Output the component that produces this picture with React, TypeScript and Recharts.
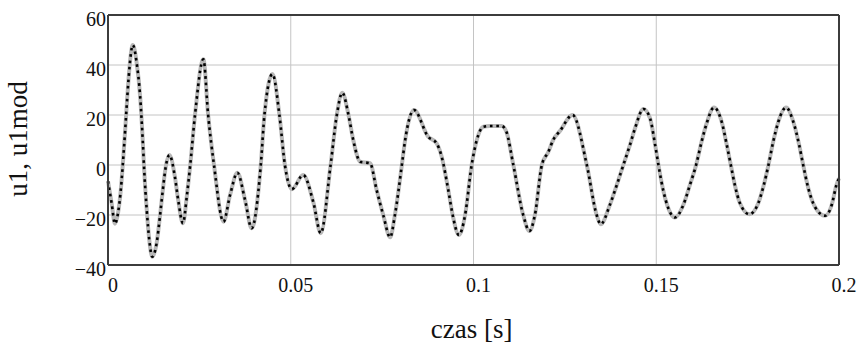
import React from 'react';
import {
  LineChart,
  Line,
  XAxis,
  YAxis,
  CartesianGrid,
  ReferenceLine,
  Label,
} from 'recharts';

// czas [s]
const time = [
  0.0, 0.001, 0.0019, 0.0028, 0.0035, 0.0042, 0.0047, 0.0051, 0.0056, 0.0068,
  0.0078, 0.0088, 0.0095, 0.0099, 0.0106, 0.0113, 0.0121, 0.0133, 0.0142, 0.015,
  0.0158, 0.0168, 0.0183, 0.0192, 0.0205, 0.0216, 0.0225, 0.0238, 0.0261, 0.0274,
  0.029, 0.0316, 0.0334, 0.0354, 0.0375, 0.0393, 0.0418, 0.0428, 0.045, 0.0469,
  0.0484, 0.0503, 0.0534, 0.0562, 0.0582, 0.0609, 0.0626, 0.0641, 0.0658, 0.0671,
  0.069, 0.0717, 0.0735, 0.0753, 0.0772, 0.0785, 0.0804, 0.0813, 0.0837, 0.0876,
  0.0899, 0.0913, 0.0931, 0.0943, 0.096, 0.0977, 0.0995, 0.1009, 0.1027, 0.1045,
  0.1077, 0.109, 0.1109, 0.1136, 0.1153, 0.1168, 0.1187, 0.1205, 0.1218, 0.1237,
  0.1271, 0.131, 0.1337, 0.1348, 0.1373, 0.1392, 0.141, 0.1428, 0.1442, 0.1465,
  0.1483, 0.1497, 0.1506, 0.152, 0.1533, 0.1551, 0.1574, 0.1592, 0.1609, 0.1624,
  0.1638, 0.1658, 0.1679, 0.1693, 0.1704, 0.1715, 0.1729, 0.1755, 0.1779, 0.1793,
  0.1807, 0.182, 0.1834, 0.1855, 0.1875, 0.1891, 0.1902, 0.1916, 0.1934, 0.1962,
  0.198, 0.1993, 0.2,
];

const u1 = [
  -6.5, -15.3, -23.5, -18.7, -10, 3.3, 14, 23.3, 34, 48,
  41.3, 27.3, 10, -2, -18, -30, -36.7, -31.3, -20.7, -10,
  -0.7, 4, -4.7, -14, -23.3, -12, 0, 20, 42.3, 20,
  0, -22.7, -12, -3.1, -14, -25.3, 0, 20, 36.4, 20,
  0, -9.7, -4, -15, -27.3, 0, 20, 28.9, 20, 10,
  1.3, 0.7, -10, -20, -28.9, -20, 0, 10, 22, 11.3,
  8.7, 3.3, -10, -20, -28, -20, 0, 10, 15.3, 15.6,
  15.6, 13.3, 0, -20, -26.4, -20, 0, 5.3, 10, 13.7,
  20, 0, -20, -23.7, -16, -8, 0, 8, 14.7, 22.4,
  18.7, 8, 0, -10.7, -17.3, -21, -16, -8, 0, 9.3,
  16.7, 23, 17.3, 8, 0, -8, -15.3, -19.7, -15.3, -8.7,
  0, 9.3, 17.3, 23, 17.3, 8, 0, -9.3, -16.7, -20.3,
  -16, -8, -5.3,
];

// model pokrywa się z przebiegiem u1
const u1mod = [...u1];

const xTicks = [0, 0.05, 0.1, 0.15, 0.2];
const yTicks = [-40, -20, 0, 20, 40, 60];

const data = time.map((t, i) => ({ t, u1: u1[i], u1mod: u1mod[i] }));

const font = "'Liberation Serif', serif";

const formatY = (v: number) => (v < 0 ? `\u2212${Math.abs(v)}` : `${v}`);

export default function App() {
  return (
    <div style={{ fontFamily: font }}>
      <style>{'body{margin:0} svg text{font-family:"Liberation Serif", serif;}'}</style>
      <LineChart
        width={861}
        height={346}
        data={data}
        margin={{ top: 15, right: 22, left: 0, bottom: 0 }}
        style={{ fontFamily: font }}
      >
        <CartesianGrid stroke="#c4c4c4" strokeWidth={1} />
        <XAxis
          dataKey="t"
          type="number"
          domain={[0, 0.2]}
          ticks={xTicks}
          axisLine={false}
          tickLine={false}
          tickSize={0}
          tickMargin={13}
          height={81}
          tick={{ fontSize: 20, fill: '#111', dx: 5 }}
        >
          <Label
            content={() => (
              <text
                x={471.7}
                y={338}
                textAnchor="middle"
                fontSize={27}
                fill="#111"
              >
                czas [s]
              </text>
            )}
          />
        </XAxis>
        <YAxis
          type="number"
          domain={[-40, 60]}
          ticks={yTicks}
          width={108}
          axisLine={false}
          tickLine={false}
          tickSize={0}
          tickMargin={2}
          tickFormatter={formatY}
          tick={{ fontSize: 20, fill: '#111', dy: 4 }}
        >
          <Label
            content={() => (
              <text
                x={27}
                y={139}
                textAnchor="middle"
                fontSize={27}
                fill="#111"
                transform="rotate(-90 27 139)"
              >
                u1, u1mod
              </text>
            )}
          />
        </YAxis>
        <Line
          type="monotone"
          dataKey="u1"
          stroke="#b8b8b8"
          strokeWidth={4}
          dot={false}
          isAnimationActive={false}
        />
        <Line
          type="monotone"
          dataKey="u1mod"
          stroke="#000"
          strokeWidth={2.6}
          strokeDasharray="2.6 3.8"
          dot={false}
          isAnimationActive={false}
        />
        <ReferenceLine y={60} stroke="#3c3c3c" strokeWidth={2} />
        <ReferenceLine y={-40} stroke="#3c3c3c" strokeWidth={2} />
        <ReferenceLine x={0} stroke="#3c3c3c" strokeWidth={2} />
        <ReferenceLine x={0.2} stroke="#3c3c3c" strokeWidth={2} />
      </LineChart>
    </div>
  );
}
